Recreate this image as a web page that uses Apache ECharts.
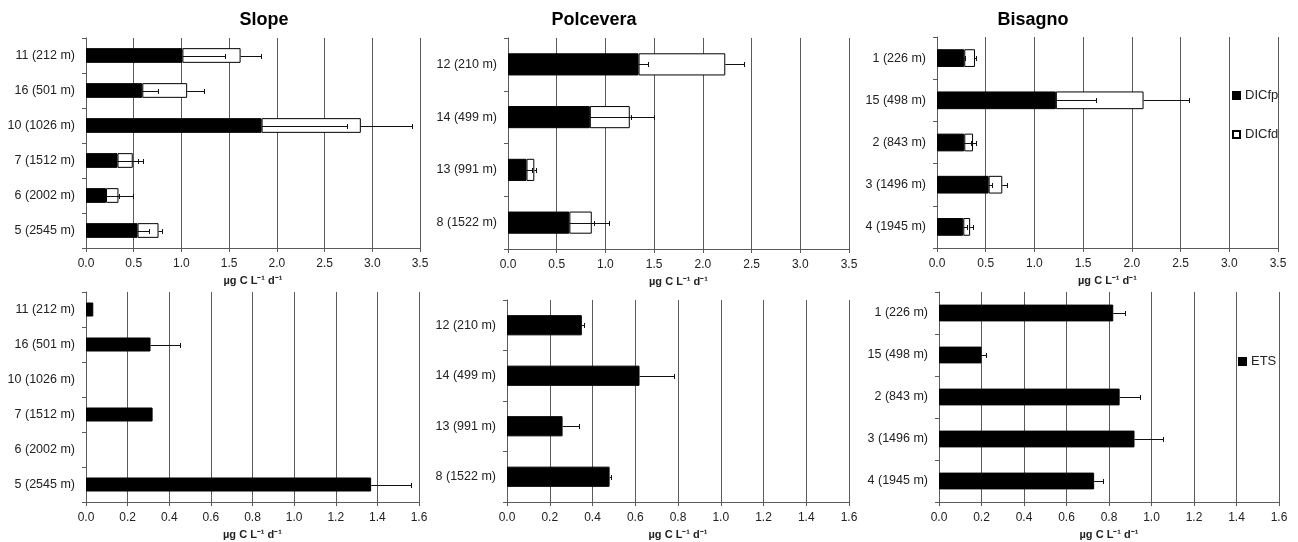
<!DOCTYPE html>
<html>
<head>
<meta charset="utf-8">
<script src="https://cdn.jsdelivr.net/npm/echarts@6/dist/echarts.min.js"></script>
<style>
html,body{margin:0;padding:0;background:#fff;}
#chart{width:1298px;height:542px;}
</style>
</head>
<body>
<div id="chart"></div>
<script>
// ---------- data ----------
const slopeCats = ['11 (212 m)', '16 (501 m)', '10 (1026 m)', '7 (1512 m)', '6 (2002 m)', '5 (2545 m)'];
const polCats = ['12 (210 m)', '14 (499 m)', '13 (991 m)', '8 (1522 m)'];
const bisCats = ['1 (226 m)', '15 (498 m)', '2 (843 m)', '3 (1496 m)', '4 (1945 m)'];

// top row: DICfp (black) and DICfd (white, stacked)
const slopeFp    = [1.01, 0.59, 1.84, 0.33, 0.21, 0.54];
const slopeFpErr = [0.45, 0.16, 0.89, 0.22, 0.14, 0.12];
const slopeFd    = [0.61, 0.47, 1.04, 0.16, 0.13, 0.22];
const slopeFdErr = [0.21, 0.18, 0.54, 0.11, 0.15, 0.04];

const polFp    = [1.34, 0.84, 0.19, 0.63];
const polFpErr = [0.10, 0.66, 0.06, 0.41];
const polFd    = [0.89, 0.41, 0.08, 0.23];
const polFdErr = [0.19, 0.01, 0.02, 0.02];

const bisFp    = [0.28, 1.22, 0.28, 0.53, 0.27];
const bisFpErr = [0.01, 0.41, 0.07, 0.03, 0.04];
const bisFd    = [0.11, 0.90, 0.09, 0.14, 0.07];
const bisFdErr = [0.01, 0.47, 0.03, 0.05, 0.03];

// bottom row: ETS
const slopeEts    = [0.035, 0.31, null, 0.32, null, 1.37];
const slopeEtsErr = [0, 0.14, null, 0, null, 0.19];
const polEts      = [0.35, 0.62, 0.26, 0.48];
const polEtsErr   = [0.01, 0.16, 0.075, 0.005];
const bisEts      = [0.82, 0.20, 0.85, 0.92, 0.73];
const bisEtsErr   = [0.055, 0.02, 0.095, 0.135, 0.04];

const titles = ['Slope', 'Polcevera', 'Bisagno'];
const unitLabel = 'µg C L⁻¹ d⁻¹';
const topTicks = {min: 0, max: 3.5, interval: 0.5};
const botTicks = {min: 0, max: 1.6, interval: 0.2};

// ---------- helpers ----------
const FONT = 'Arial, "Liberation Sans", sans-serif';
const AXIS_COL = '#5a5a5a';

function errData(base, err, offset) {
  const out = [];
  base.forEach((v, i) => {
    if (v == null || !err[i]) return;
    const s = v + (offset ? (offset[i] || 0) : 0);
    out.push([s, s + err[i], i]);
  });
  return out;
}
function renderErr(params, api) {
  const yi = api.value(2);
  const s = api.coord([api.value(0), yi]);
  const e = api.coord([api.value(1), yi]);
  const y = Math.round(s[1]) + 0.5;
  const xe = Math.round(e[0]) + 0.5;
  const h = 2.5;
  return {
    type: 'group',
    children: [
      {type: 'line', shape: {x1: s[0], y1: y, x2: xe, y2: y}, style: {stroke: '#111', lineWidth: 1}},
      {type: 'line', shape: {x1: xe, y1: y - h, x2: xe, y2: y + h}, style: {stroke: '#111', lineWidth: 1}}
    ]
  };
}
let errCount = 0;
function errSeries(gi, data) {
  errCount++;
  return {
    type: 'custom', name: 'err' + errCount,
    xAxisIndex: gi, yAxisIndex: gi, z: 5,
    dimensions: ['s', 'e', 'y'],
    encode: {x: [0, 1], y: 2},
    renderItem: renderErr, data: data, silent: true
  };
}

const grids = [
  {left: 86, top: 38, width: 334, height: 210},
  {left: 508, top: 38, width: 341, height: 211},
  {left: 937, top: 37, width: 341, height: 211},
  {left: 86, top: 292, width: 333, height: 210},
  {left: 507, top: 300, width: 342, height: 202},
  {left: 939, top: 292, width: 340, height: 210}
];
const catSets = [slopeCats, polCats, bisCats, slopeCats, polCats, bisCats];

const xAxes = grids.map((g, i) => {
  const t = i < 3 ? topTicks : botTicks;
  return {
    type: 'value', gridIndex: i, min: t.min, max: t.max, interval: t.interval,
    axisLine: {show: true, lineStyle: {color: AXIS_COL, width: 1}},
    axisTick: {show: true, length: 4, lineStyle: {color: AXIS_COL}},
    splitLine: {show: true, lineStyle: {color: AXIS_COL, width: 1}},
    axisLabel: {formatter: v => v.toFixed(1), fontSize: 12, color: '#222', margin: 10, fontFamily: FONT},
    name: unitLabel, nameLocation: 'middle', nameGap: 27,
    nameTextStyle: {fontSize: 11, fontWeight: 'bold', color: '#222', fontFamily: FONT}
  };
});
const yAxes = grids.map((g, i) => ({
  type: 'category', gridIndex: i, inverse: true, data: catSets[i],
  axisLine: {show: true, lineStyle: {color: AXIS_COL, width: 1}},
  axisTick: {show: true, length: 4, lineStyle: {color: AXIS_COL}},
  splitLine: {show: false},
  axisLabel: {fontSize: 12.5, color: '#222', margin: 11, fontFamily: FONT}
}));

const fpStyle = {color: '#000', borderColor: '#000', borderWidth: 1};
const fdStyle = {color: '#fff', borderColor: '#000', borderWidth: 1};

const series = [];
const topSets = [
  [slopeFp, slopeFpErr, slopeFd, slopeFdErr],
  [polFp, polFpErr, polFd, polFdErr],
  [bisFp, bisFpErr, bisFd, bisFdErr]
];
topSets.forEach((set, gi) => {
  const [fp, fpe, fd, fde] = set;
  series.push({type: 'bar', name: 'DICfp', xAxisIndex: gi, yAxisIndex: gi, stack: 's' + gi,
    barWidth: '42%', itemStyle: fpStyle, data: fp, silent: true});
  series.push({type: 'bar', name: 'DICfd', xAxisIndex: gi, yAxisIndex: gi, stack: 's' + gi,
    barWidth: '42%', itemStyle: fdStyle, data: fd, silent: true});
  series.push(errSeries(gi, errData(fp, fpe)));
  series.push(errSeries(gi, errData(fd, fde, fp)));
});
const botSets = [[slopeEts, slopeEtsErr], [polEts, polEtsErr], [bisEts, bisEtsErr]];
botSets.forEach((set, k) => {
  const gi = k + 3;
  series.push({type: 'bar', name: 'ETS', xAxisIndex: gi, yAxisIndex: gi,
    barWidth: '40%', itemStyle: fpStyle, data: set[0].map(v => v == null ? '-' : v), silent: true});
  series.push(errSeries(gi, errData(set[0], set[1])));
});

const titleCenters = [264, 594, 1033];
const option = {
  animation: false,
  backgroundColor: '#fff',
  textStyle: {fontFamily: FONT},
  title: titles.map((t, i) => ({
    text: t, left: titleCenters[i], top: 11, textAlign: 'center', padding: 0,
    textStyle: {fontSize: 18, fontWeight: 'bold', color: '#000', fontFamily: FONT}
  })),
  legend: [
    {data: ['DICfp', 'DICfd'], orient: 'vertical', left: 1227, top: 84, itemWidth: 7, itemHeight: 7,
      itemGap: 26, icon: 'rect', selectedMode: false,
      textStyle: {fontSize: 13, color: '#222', fontFamily: FONT}},
    {data: ['ETS'], orient: 'vertical', left: 1233, top: 350, itemWidth: 7, itemHeight: 7,
      icon: 'rect', selectedMode: false,
      textStyle: {fontSize: 13, color: '#222', fontFamily: FONT}}
  ],
  grid: grids,
  xAxis: xAxes,
  yAxis: yAxes,
  series: series
};

const chart = echarts.init(document.getElementById('chart'), null, {renderer: 'canvas'});
chart.setOption(option);
</script>
</body>
</html>
